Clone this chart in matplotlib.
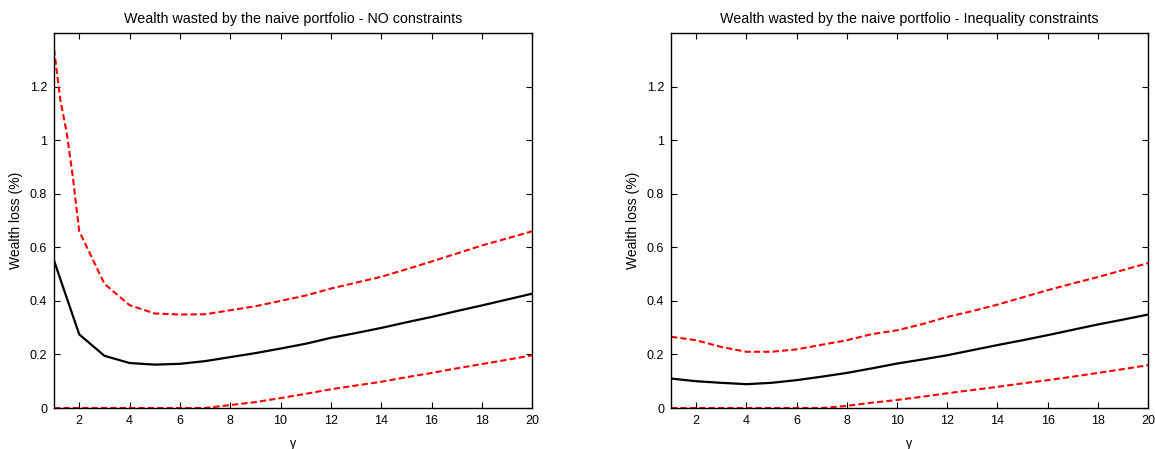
import numpy as np
import matplotlib
matplotlib.use("Agg")
import matplotlib.pyplot as plt

plt.rcParams['font.family'] = ['Liberation Sans', 'DejaVu Sans']

# gamma grids
gamma = [1, 2, 3, 4, 5, 6, 7, 8, 9, 10, 11, 12, 13, 14, 15, 16, 17, 18, 19, 20]
gamma_fine = [1, 1.25, 1.5, 1.75] + gamma[1:]

# NO constraints panel
noc_mid = [0.55, 0.275, 0.195, 0.168, 0.162, 0.165, 0.175, 0.19, 0.205, 0.222,
           0.24, 0.262, 0.28, 0.299, 0.32, 0.34, 0.362, 0.383, 0.405, 0.427]
noc_hi = [1.34, 1.15, 1.03, 0.86, 0.66, 0.464, 0.384, 0.353, 0.349, 0.35, 0.365,
          0.38, 0.40, 0.42, 0.446, 0.468, 0.49, 0.518, 0.547, 0.577, 0.607, 0.633, 0.66]
noc_lo = [0, 0, 0, 0, 0, 0, 0, 0.011, 0.022, 0.037, 0.053, 0.07, 0.084, 0.098,
          0.115, 0.131, 0.148, 0.164, 0.18, 0.197]

# Inequality constraints panel
ineq_mid = [0.11, 0.10, 0.094, 0.089, 0.094, 0.104, 0.117, 0.131, 0.148, 0.166,
            0.181, 0.197, 0.216, 0.235, 0.253, 0.272, 0.292, 0.312, 0.33, 0.349]
ineq_hi = [0.266, 0.253, 0.228, 0.21, 0.21, 0.219, 0.236, 0.253, 0.276, 0.29,
           0.313, 0.34, 0.362, 0.386, 0.413, 0.44, 0.465, 0.489, 0.515, 0.541]
ineq_lo = [0, 0, 0, 0, 0, 0, 0, 0.008, 0.02, 0.03, 0.042, 0.055, 0.067, 0.079,
           0.092, 0.104, 0.117, 0.131, 0.145, 0.16]

titles = ['Wealth wasted by the naive portfolio - NO constraints',
          'Wealth wasted by the naive portfolio - Inequality constraints']

fig = plt.figure(figsize=(11.55, 4.49), dpi=100)
ax1 = fig.add_axes([0.0468, 0.0913, 0.414, 0.835])
ax2 = fig.add_axes([0.581, 0.0913, 0.413, 0.835])

panels = [(ax1, gamma_fine, noc_hi, noc_mid, noc_lo),
          (ax2, gamma, ineq_hi, ineq_mid, ineq_lo)]

for i, (ax, ghi, hi, mid, lo) in enumerate(panels):
    ax.plot(ghi, hi, color='red', ls='--', lw=1.5, dashes=(3, 1.5))
    ax.plot(gamma, mid, color='black', lw=1.6)
    ax.plot(gamma, lo, color='red', ls='--', lw=1.5, dashes=(3, 1.5))
    ax.set_xlim(1, 20)
    ax.set_ylim(0, 1.4)
    ax.set_xticks(np.arange(2, 21, 2))
    ax.set_yticks([0, 0.2, 0.4, 0.6, 0.8, 1, 1.2])
    ax.set_yticklabels(['0', '0.2', '0.4', '0.6', '0.8', '1', '1.2'])
    ax.tick_params(direction='in', top=True, right=True, length=4, width=0.8,
                   labelsize=9)
    ax.tick_params(axis='x', pad=5)
    ax.tick_params(axis='y', pad=5)
    for sp in ax.spines.values():
        sp.set_linewidth(1.0)
    ax.set_title(titles[i], fontsize=10.25, pad=7)
    ax.set_xlabel('\u03b3', fontsize=9, labelpad=8)
    ax.set_ylabel('Wealth loss (%)', fontsize=10, labelpad=5)

fig.savefig('out.png', dpi=100)
